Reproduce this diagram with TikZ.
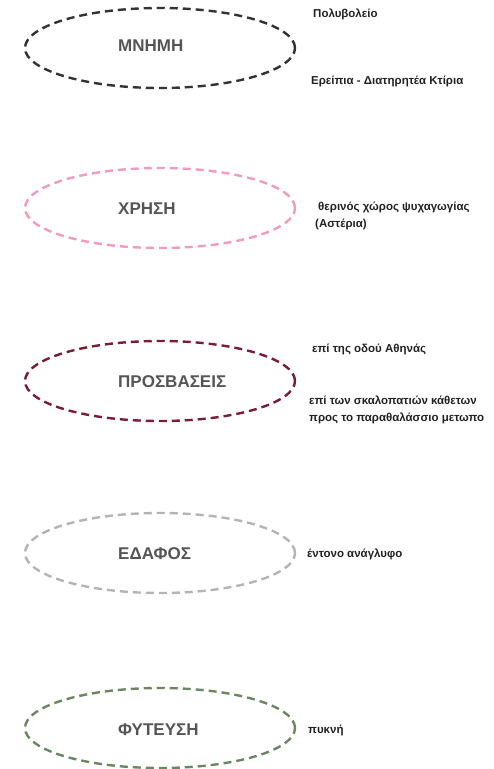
\documentclass[tikz,border=0pt]{standalone}
\usepackage{fontspec}
\setmainfont{Liberation Sans}
\usetikzlibrary{shapes.geometric}

\definecolor{memgray}{HTML}{333333}
\definecolor{usepink}{HTML}{F29AC0}
\definecolor{accred}{HTML}{7A1C36}
\definecolor{soilgray}{HTML}{B4B4B4}
\definecolor{plantgreen}{HTML}{6B8762}
\definecolor{labelgray}{HTML}{555555}
\definecolor{notegray}{HTML}{222222}

\tikzset{
  topic/.style={ellipse, draw=#1, line width=2.4pt, dash pattern=on 8pt off 5pt,
    minimum width=270pt, minimum height=80pt, inner sep=0pt},
  topictext/.style={anchor=west, inner sep=0pt, text=labelgray,
    font=\fontsize{17}{20}\selectfont\bfseries},
  note/.style={anchor=west, align=left, text=notegray,
    font=\fontsize{11.5}{17.5}\selectfont\bfseries, inner sep=0pt}
}

\begin{document}
\begin{tikzpicture}[x=1pt, y=-1pt]

        % Define parameters
        \def\cx{160}  % centre of the ellipses
        \def\tx{118}  % left edge of the titles
        \def\nx{311}  % left edge of the notes

        % fix the page
        \useasboundingbox (0,0) rectangle (494,769);

        % ellipses
        \node[topic=memgray] (mnimi) at (\cx, 48) {};
        \node[topic=usepink] (xrisi) at (\cx, 208) {};
        \node[topic=accred] (prosvaseis) at (\cx, 381) {};
        \node[topic=soilgray] (edafos) at (\cx, 553) {};
        \node[topic=plantgreen] (fytefsi) at (\cx, 728) {};

        % titles
        \node[topictext] (mnimi-t) at (\tx, 46) {ΜΝΗΜΗ};
        \node[topictext] (xrisi-t) at (\tx, 209) {ΧΡΗΣΗ};
        \node[topictext] (prosvaseis-t) at (\tx, 382) {ΠΡΟΣΒΑΣΕΙΣ};
        \node[topictext] (edafos-t) at (\tx, 554) {ΕΔΑΦΟΣ};
        \node[topictext] (fytefsi-t) at (\tx, 730) {ΦΥΤΕΥΣΗ};

        % notes
        \node[note] (polyvoleio) at (\nx+2, 14) {Πολυβολείο};
        \node[note] (ereipia) at (\nx, 81) {Ερείπια - Διατηρητέα Κτίρια};
        \node[note] (therinos) at (\nx+4, 216) {\hspace{3pt}θερινός χώρος ψυχαγωγίας\\(Αστέρια)};
        \node[note] (athinas) at (\nx+1, 349) {επί της οδού Αθηνάς};
        \node[note] (skalopatia) at (\nx-2, 410) {επί των σκαλοπατιών κάθετων\\προς το παραθαλάσσιο μετωπο};
        \node[note] (anaglyfo) at (\nx-4, 554) {έντονο ανάγλυφο};
        \node[note] (pykni) at (\nx-3, 730) {πυκνή};

\end{tikzpicture}
\end{document}
